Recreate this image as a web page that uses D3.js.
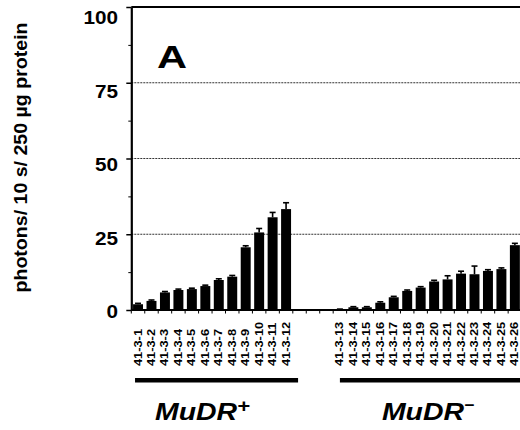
<!DOCTYPE html>
<html>
<head>
<meta charset="utf-8">
<script src="https://cdn.jsdelivr.net/npm/d3@7"></script>
<style>
  body { margin: 0; background: #fff; }
  svg { display: block; font-family: "Liberation Sans", Arial, sans-serif; font-weight: bold; }
</style>
</head>
<body>
<svg id="chart" width="520" height="430"></svg>
<script>
// values (photons / 10 s / 250 ug protein)
const plusLines = ["41-3-1", "41-3-2", "41-3-3", "41-3-4", "41-3-5", "41-3-6",
  "41-3-7", "41-3-8", "41-3-9", "41-3-10", "41-3-11", "41-3-12"];
const plusValues = [1.9, 3.0, 5.8, 6.6, 6.9, 7.9, 9.9, 11.0, 20.7, 25.6, 30.6, 33.3];
const plusErrors = [0.3, 0.3, 0.3, 0.3, 0.3, 0.3, 0.4, 0.4, 0.5, 1.3, 1.6, 2.1];

const minusLines = ["41-3-13", "41-3-14", "41-3-15", "41-3-16", "41-3-17", "41-3-18", "41-3-19",
  "41-3-20", "41-3-21", "41-3-22", "41-3-23", "41-3-24", "41-3-25", "41-3-26"];
const minusValues = [0.2, 0.9, 0.9, 2.4, 4.2, 6.3, 7.4, 9.4, 10.1, 12.0, 11.8, 12.9, 13.5, 21.4];
const minusErrors = [0.1, 0.2, 0.2, 0.3, 0.3, 0.3, 0.3, 0.4, 1.2, 0.8, 2.7, 0.4, 0.4, 0.6];

const groupNames = ["MuDR", "MuDR"];
const groupSigns = ["+", "\u2212"];
const yTicks = [0, 25, 50, 75, 100];
const yMinor = [12.5, 37.5, 62.5, 87.5];
const gridValues = [25, 50, 75];
const gapSlots = ["", " ", "  "]; // empty positions between the two groups

const svg = d3.select("#chart");

const y = d3.scaleLinear().domain([0, 100]).range([310, 7]);
// printed numbers sit a bit off their ticks in the original
const yText = d3.scaleLinear().domain([0, 100]).range([312, 18]);

const x = d3.scaleBand()
  .domain(plusLines.concat(gapSlots, minusLines))
  .range([131.3, 521.6]);
const barW = x.bandwidth() * 0.74;
const mid = d => x(d) + x.bandwidth() / 2;

const rows = plusLines.map((c, i) => ({line: c, value: plusValues[i], err: plusErrors[i]}))
  .concat(minusLines.map((c, i) => ({line: c, value: minusValues[i], err: minusErrors[i]})));

// widen text to match the stretched lettering
function stretch(sel, k) {
  sel.attr("textLength", function() { return this.getComputedTextLength() * k; })
    .attr("lengthAdjust", "spacingAndGlyphs");
}

const right = 522;

// dotted reference lines
svg.append("g").selectAll("line")
  .data(gridValues)
  .join("line")
  .attr("x1", x.range()[0]).attr("x2", right)
  .attr("y1", d => y(d)).attr("y2", d => y(d))
  .attr("stroke", "#333")
  .attr("stroke-width", 1.2)
  .attr("stroke-dasharray", "2,1");

// bars
svg.append("g").selectAll("rect")
  .data(rows)
  .join("rect")
  .attr("x", d => mid(d.line) - barW / 2)
  .attr("width", barW)
  .attr("y", d => y(d.value))
  .attr("height", d => y(0) - y(d.value))
  .attr("fill", "#000");

// error bars, upper half only
const eb = svg.append("g").attr("stroke", "#000").attr("stroke-width", 1.6);
eb.selectAll("line.v")
  .data(rows)
  .join("line")
  .attr("class", "v")
  .attr("x1", d => mid(d.line)).attr("x2", d => mid(d.line))
  .attr("y1", d => y(d.value)).attr("y2", d => y(d.value + d.err));
eb.selectAll("line.cap")
  .data(rows)
  .join("line")
  .attr("class", "cap")
  .attr("x1", d => mid(d.line) - 3).attr("x2", d => mid(d.line) + 3)
  .attr("y1", d => y(d.value + d.err)).attr("y2", d => y(d.value + d.err));

// y axis: major and minor ticks
svg.append("g")
  .attr("transform", `translate(${x.range()[0]},0)`)
  .call(d3.axisLeft(y).tickValues(yTicks).tickSize(5).tickSizeOuter(0).tickFormat(""))
  .call(g => g.select(".domain").attr("stroke-width", 2.2))
  .call(g => g.selectAll(".tick line").attr("stroke-width", 1.5));
svg.append("g")
  .attr("transform", `translate(${x.range()[0]},0)`)
  .call(d3.axisLeft(y).tickValues(yMinor).tickSize(3).tickFormat(""))
  .call(g => g.select(".domain").remove());

svg.append("g").selectAll("text")
  .data(yTicks)
  .join("text")
  .attr("x", 118)
  .attr("y", d => yText(d))
  .attr("dy", "0.36em")
  .attr("text-anchor", "end")
  .attr("font-size", 18)
  .text(d => d)
  .call(stretch, 1.15);

// frame top and baseline
svg.append("line")
  .attr("x1", x.range()[0]).attr("x2", right)
  .attr("y1", y(100)).attr("y2", y(100))
  .attr("stroke", "#000").attr("stroke-width", 2);
svg.append("line")
  .attr("x1", x.range()[0]).attr("x2", right)
  .attr("y1", y(0)).attr("y2", y(0))
  .attr("stroke", "#000").attr("stroke-width", 2);

// small ticks between slots along the baseline
svg.append("g").selectAll("line")
  .data(x.domain())
  .join("line")
  .attr("x1", d => x(d)).attr("x2", d => x(d))
  .attr("y1", y(0)).attr("y2", y(0) + 3.5)
  .attr("stroke", "#000").attr("stroke-width", 1);

// line names, rotated
svg.append("g").selectAll("text")
  .data(plusLines.concat(minusLines))
  .join("text")
  .attr("transform", d => `translate(${mid(d)},366) rotate(-90)`)
  .attr("dy", "0.35em")
  .attr("font-size", 10)
  .text(d => d)
  .call(stretch, 1.28);

// group bars and names
const groups = [plusLines, minusLines];
svg.append("g").selectAll("rect")
  .data(groups)
  .join("rect")
  .attr("x", (g, i) => mid(g[0]) - (i === 0 ? 3 : 0))
  .attr("width", (g, i) => (i === 0 ? mid(g[g.length - 1]) + 12 : right) - (mid(g[0]) - (i === 0 ? 3 : 0)))
  .attr("y", 378)
  .attr("height", 4.5)
  .attr("fill", "#000");

const gl = svg.append("g").selectAll("text")
  .data(groups)
  .join("text")
  .attr("transform", (g, i) => `translate(${mid(g[0]) + (i === 0 ? 17 : 42)},420) scale(1.16,1)`)
  .attr("font-size", 24.5)
  .attr("font-style", "italic");
gl.append("tspan").text((g, i) => groupNames[i]);
gl.append("tspan")
  .attr("font-size", (g, i) => i === 0 ? 19 : 15)
  .attr("dy", (g, i) => i === 0 ? -8.5 : -10)
  .text((g, i) => groupSigns[i]);

// panel letter
svg.append("text")
  .attr("x", 157).attr("y", 68)
  .attr("font-size", 32)
  .text("A")
  .call(stretch, 1.3);

// y title
svg.append("text")
  .attr("transform", "translate(27,157.5) rotate(-90)")
  .attr("text-anchor", "middle")
  .attr("font-size", 19)
  .text("photons/ 10 s/ 250 \u00b5g protein")
  .call(stretch, 1.03);
</script>
</body>
</html>
